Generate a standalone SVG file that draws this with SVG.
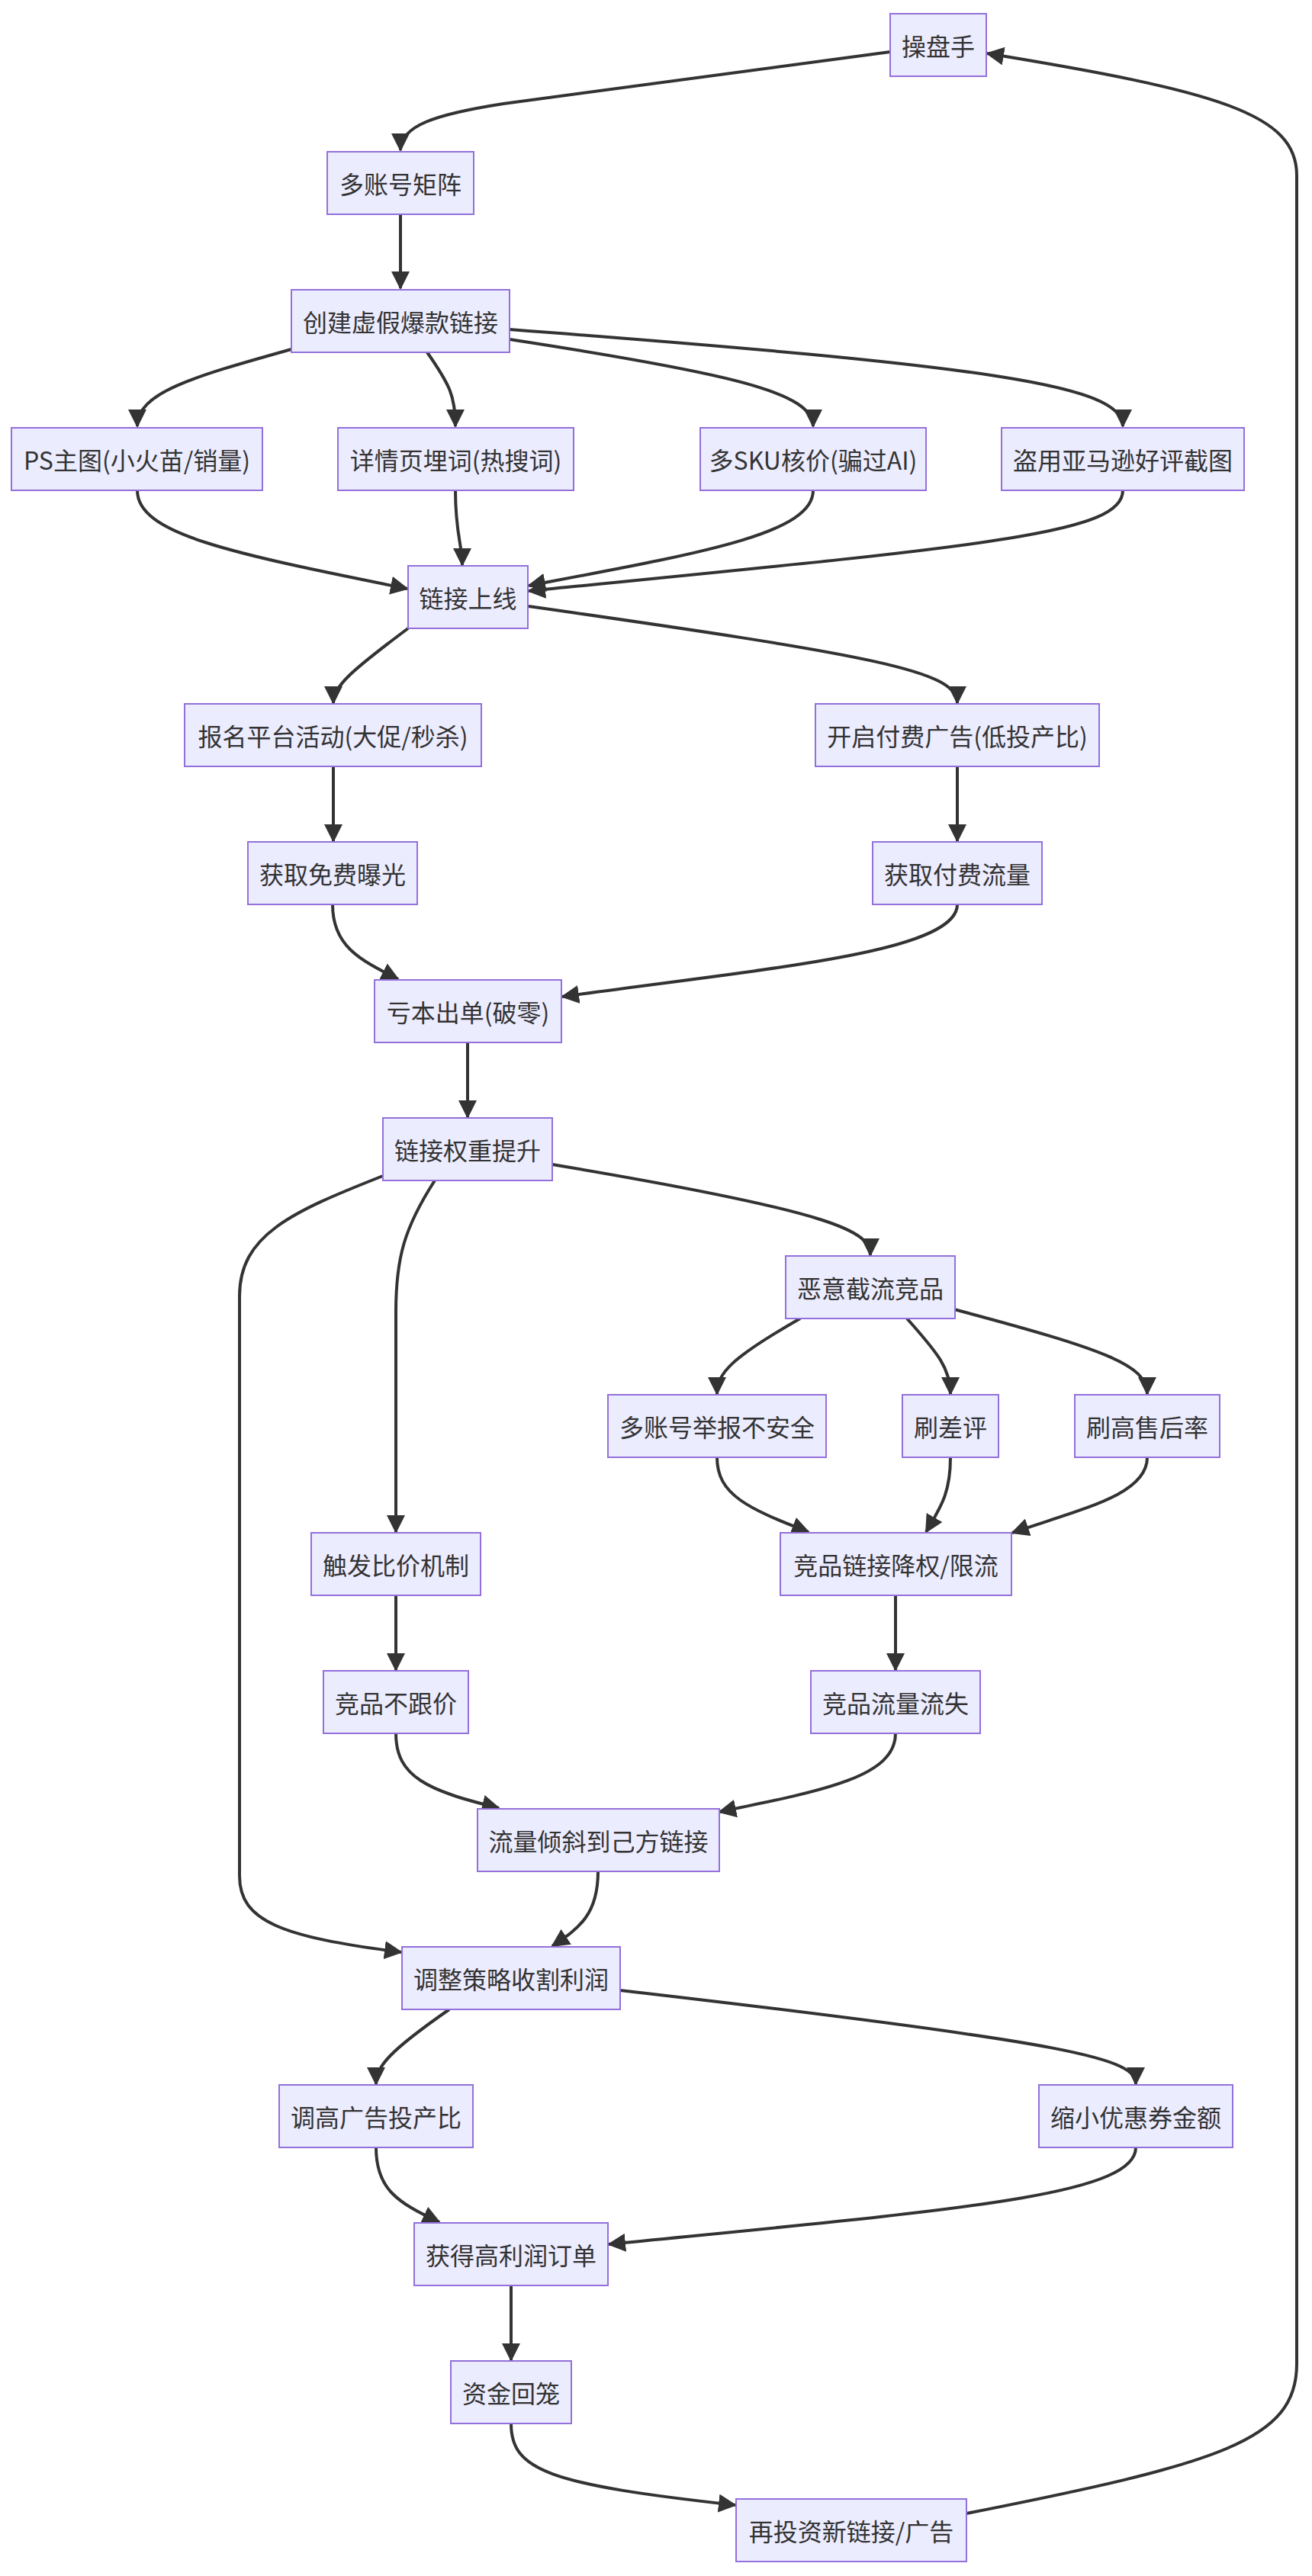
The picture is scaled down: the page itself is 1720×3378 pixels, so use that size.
<svg xmlns="http://www.w3.org/2000/svg" width="1720" height="3378" viewBox="0 0 1720 3378">
<style>
.node rect{fill:#ECECFF;stroke:#9370DB;stroke-width:2}
.node text{font-family:"Noto Sans CJK SC","Noto Sans",sans-serif;font-size:32px;fill:#333;text-anchor:middle;dominant-baseline:central}
.edges path{fill:none;stroke:#333;stroke-width:4;marker-end:url(#arr)}
</style>
<defs>
<marker id="arr" markerUnits="userSpaceOnUse" markerWidth="24" markerHeight="24" refX="22" refY="12" orient="auto"><path d="M0,0 L24,12 L0,24 z" fill="#333"/></marker>
</defs>
<rect width="1720" height="3378" fill="#fff"/>
<g class="edges">
<path d="M1167,68 L660,136 C570,150 525,165 525,197"/>
<path d="M525,281 L525,378"/>
<path d="M382,458 C250,495 180,515 180,559"/>
<path d="M560,462 C590,505 597,520 597,559"/>
<path d="M668,445 C960,490 1066,515 1066,559"/>
<path d="M668,432 C1300,480 1472,505 1472,559"/>
<path d="M180,643 C180,700 300,725 534,772"/>
<path d="M597,643 C597,700 606,715 606,741"/>
<path d="M1066,643 C1066,700 920,725 693,768"/>
<path d="M1472,643 C1472,700 1300,715 693,775"/>
<path d="M535,824 C460,880 437,900 437,922"/>
<path d="M693,795 C1150,860 1255,880 1255,922"/>
<path d="M437,1005 L437,1103"/>
<path d="M1255,1005 L1255,1103"/>
<path d="M436,1186 C436,1240 470,1258 522,1284"/>
<path d="M1255,1186 C1255,1250 1000,1270 737,1307"/>
<path d="M613,1367 L613,1465"/>
<path d="M502,1542 C380,1590 314,1620 314,1700 L314,2460 C314,2520 370,2540 526,2560"/>
<path d="M570,1548 C530,1610 519,1650 519,1720 L519,2009"/>
<path d="M724,1527 C1100,1590 1141,1615 1141,1646"/>
<path d="M1049,1729 C960,1780 940,1800 940,1828"/>
<path d="M1189,1729 C1230,1775 1246,1795 1246,1828"/>
<path d="M1251,1717 C1450,1770 1504,1790 1504,1828"/>
<path d="M940,1911 C940,1960 980,1978 1060,2009"/>
<path d="M1246,1911 C1246,1960 1232,1978 1214,2009"/>
<path d="M1504,1911 C1504,1960 1420,1978 1327,2010"/>
<path d="M519,2092 L519,2190"/>
<path d="M1174,2092 L1174,2190"/>
<path d="M519,2273 C519,2330 560,2348 654,2371"/>
<path d="M1174,2273 C1174,2330 1080,2348 943,2376"/>
<path d="M784,2454 C784,2510 760,2528 724,2552"/>
<path d="M589,2635 C510,2690 493,2710 493,2733"/>
<path d="M813,2610 C1420,2680 1489,2700 1489,2733"/>
<path d="M493,2816 C493,2870 520,2888 576,2914"/>
<path d="M1489,2816 C1489,2880 1250,2898 798,2943"/>
<path d="M670,2997 L670,3095"/>
<path d="M670,3178 C670,3240 720,3258 964,3285"/>
<path d="M1267,3296 C1600,3230 1700,3200 1700,3100 L1700,230 C1700,150 1600,120 1294,70"/>
</g>
<g id="n1" class="node"><rect x="1167" y="18" width="126" height="82"/><text x="1230" y="59">操盘手</text></g>
<g id="n2" class="node"><rect x="429" y="199" width="192" height="82"/><text x="525" y="240">多账号矩阵</text></g>
<g id="n3" class="node"><rect x="382" y="380" width="286" height="82"/><text x="525" y="421">创建虚假爆款链接</text></g>
<g id="n4" class="node"><rect x="15" y="561" width="329" height="82"/><text x="179.5" y="602">PS主图(小火苗/销量)</text></g>
<g id="n5" class="node"><rect x="443" y="561" width="309" height="82"/><text x="597.5" y="602">详情页埋词(热搜词)</text></g>
<g id="n6" class="node"><rect x="918" y="561" width="296" height="82"/><text x="1066" y="602">多SKU核价(骗过AI)</text></g>
<g id="n7" class="node"><rect x="1313" y="561" width="318" height="82"/><text x="1472" y="602">盗用亚马逊好评截图</text></g>
<g id="n8" class="node"><rect x="535" y="742" width="157" height="82"/><text x="613.5" y="783">链接上线</text></g>
<g id="n9" class="node"><rect x="242" y="923" width="389" height="82"/><text x="436.5" y="964">报名平台活动(大促/秒杀)</text></g>
<g id="n10" class="node"><rect x="1069" y="923" width="372" height="82"/><text x="1255" y="964">开启付费广告(低投产比)</text></g>
<g id="n11" class="node"><rect x="325" y="1104" width="222" height="82"/><text x="436" y="1145">获取免费曝光</text></g>
<g id="n12" class="node"><rect x="1144" y="1104" width="222" height="82"/><text x="1255" y="1145">获取付费流量</text></g>
<g id="n13" class="node"><rect x="491" y="1285" width="245" height="82"/><text x="613.5" y="1326">亏本出单(破零)</text></g>
<g id="n14" class="node"><rect x="502" y="1466" width="222" height="82"/><text x="613" y="1507">链接权重提升</text></g>
<g id="n15" class="node"><rect x="1030" y="1647" width="222" height="82"/><text x="1141" y="1688">恶意截流竞品</text></g>
<g id="n16" class="node"><rect x="797" y="1829" width="286" height="82"/><text x="940" y="1870">多账号举报不安全</text></g>
<g id="n17" class="node"><rect x="1183" y="1829" width="126" height="82"/><text x="1246" y="1870">刷差评</text></g>
<g id="n18" class="node"><rect x="1409" y="1829" width="190" height="82"/><text x="1504" y="1870">刷高售后率</text></g>
<g id="n19" class="node"><rect x="408" y="2010" width="222" height="82"/><text x="519" y="2051">触发比价机制</text></g>
<g id="n20" class="node"><rect x="1023" y="2010" width="303" height="82"/><text x="1174.5" y="2051">竞品链接降权/限流</text></g>
<g id="n21" class="node"><rect x="424" y="2191" width="190" height="82"/><text x="519" y="2232">竞品不跟价</text></g>
<g id="n22" class="node"><rect x="1063" y="2191" width="222" height="82"/><text x="1174" y="2232">竞品流量流失</text></g>
<g id="n23" class="node"><rect x="626" y="2372" width="317" height="82"/><text x="784.5" y="2413">流量倾斜到己方链接</text></g>
<g id="n24" class="node"><rect x="527" y="2553" width="286" height="82"/><text x="670" y="2594">调整策略收割利润</text></g>
<g id="n25" class="node"><rect x="366" y="2734" width="254" height="82"/><text x="493" y="2775">调高广告投产比</text></g>
<g id="n26" class="node"><rect x="1362" y="2734" width="254" height="82"/><text x="1489" y="2775">缩小优惠券金额</text></g>
<g id="n27" class="node"><rect x="543" y="2915" width="254" height="82"/><text x="670" y="2956">获得高利润订单</text></g>
<g id="n28" class="node"><rect x="591" y="3096" width="158" height="82"/><text x="670" y="3137">资金回笼</text></g>
<g id="n29" class="node"><rect x="965" y="3277" width="302" height="82"/><text x="1116" y="3318">再投资新链接/广告</text></g>
</svg>
